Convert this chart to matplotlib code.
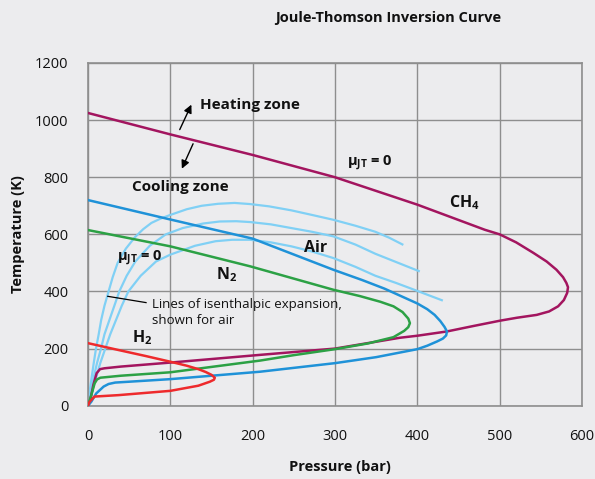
import matplotlib
matplotlib.use("Agg")
import matplotlib.pyplot as plt

# ---- data (Pressure in bar, Temperature in K) ----
ch4_p = [0, 100, 200, 300, 400, 482, 500, 520, 541, 557, 569, 577, 581, 583, 582, 578, 571, 560, 545, 521, 501, 468, 436, 400, 379, 300, 209, 100, 40, 20, 14.6, 10.5, 6.5, 2.4, 0]
ch4_t = [1025, 950, 878, 800, 704, 616, 600, 572, 535, 505, 476, 450, 430, 415, 395, 370, 348, 330, 318, 308, 298, 279, 260, 245, 238, 200, 178, 151, 137, 131, 128, 114, 73, 14, 0]

air_p = [0, 100, 200, 298, 333, 360, 380, 400, 412, 421, 428, 433, 436, 435, 431, 424, 412, 400, 350, 300, 209, 100, 50, 33, 25, 19, 10, 4, 0]
air_t = [720, 652, 585, 476, 440, 410, 384, 358, 338, 318, 296, 276, 260, 246, 235, 225, 210, 198, 170, 149, 119, 93, 84, 81, 76, 67, 43, 14, 0]

n2_p = [0, 100, 197, 298, 330, 355, 371, 382, 389, 391, 389, 384, 371, 340, 300, 250, 209, 100, 40, 15, 11, 8, 4, 0]
n2_t = [615, 558, 488, 406, 384, 364, 348, 328, 305, 289, 275, 262, 240, 218, 198, 177, 158, 117, 105, 98, 92, 78, 37, 0]

h2_p = [0, 37, 70, 100, 120, 134, 143, 150, 154, 153, 148, 140, 134, 100, 37, 8, 2, 0]
h2_t = [219, 195, 174, 154, 140, 128, 118, 108, 98, 91, 84, 76, 70, 52, 37, 32, 14, 0]

iso1_p = [0, 2, 4.5, 7, 9.7, 13, 16, 20, 25, 30, 36, 46, 57, 67, 77, 88, 100, 120, 138, 158, 178, 197, 220, 247, 272, 298, 325, 349, 366, 383]
iso1_t = [0, 50, 100, 150, 200, 250, 300, 350, 400, 450, 500, 550, 590, 618, 640, 655, 668, 688, 700, 707, 710, 706, 698, 684, 668, 651, 630, 609, 588, 563]

iso2_p = [0, 3.5, 7, 11, 15.8, 20, 26, 32, 38, 47, 57.5, 75, 94.5, 115, 140, 160, 180, 197, 222, 247, 272, 298, 325, 349, 376, 403]
iso2_t = [0, 50, 100, 150, 200, 250, 300, 350, 400, 455, 505, 560, 600, 622, 638, 645, 646, 643, 635, 622, 609, 593, 564, 532, 501, 470]

iso3_p = [0, 5, 10, 15, 21, 27, 34, 41, 49, 64, 82.6, 100, 130, 155, 175, 197, 222, 247, 272, 298, 325, 349, 374, 399, 431]
iso3_t = [0, 50, 100, 150, 200, 250, 300, 350, 400, 455, 505, 529, 560, 576, 581, 581, 572, 558, 540, 517, 486, 455, 430, 403, 368]

x_ticks = [0, 100, 200, 300, 400, 500, 600]
y_ticks = [0, 200, 400, 600, 800, 1000, 1200]

# ---- style ----
FONT = "Open Sans"
plt.rcParams['font.family'] = [FONT, 'DejaVu Sans']
plt.rcParams['mathtext.fontset'] = 'custom'
plt.rcParams['mathtext.rm'] = FONT
plt.rcParams['mathtext.it'] = FONT + ':italic'
plt.rcParams['mathtext.bf'] = FONT + ':bold'

BG = '#ececee'
GRID = '#8e8e8e'
C_CH4 = '#a3155f'
C_AIR = '#1f92d8'
C_N2 = '#2ca145'
C_H2 = '#ee2a2c'
C_ISO = '#80d0f5'
INK = '#111111'

fig = plt.figure(figsize=(5.95, 4.79), dpi=100, facecolor=BG)
ax = fig.add_axes([88/595, 1-405.7/479, (582-88)/595, (405.7-63)/479])
ax.set_facecolor(BG)

ax.set_xlim(0, 600)
ax.set_ylim(0, 1200)
ax.set_xticks(x_ticks)
ax.set_yticks(y_ticks)
ax.tick_params(length=0, labelsize=10.5, colors=INK)
ax.tick_params(axis='y', pad=14)
ax.tick_params(axis='x', pad=17)
ax.grid(True, color=GRID, lw=1.0)
ax.set_axisbelow(True)
for s in ax.spines.values():
    s.set_color(GRID)
    s.set_linewidth(1.2)

for p, t in [(iso1_p, iso1_t), (iso2_p, iso2_t), (iso3_p, iso3_t)]:
    ax.plot(p, t, color=C_ISO, lw=1.6, solid_capstyle='butt', solid_joinstyle='round', zorder=2)
for p, t, c in [(ch4_p, ch4_t, C_CH4), (n2_p, n2_t, C_N2), (air_p, air_t, C_AIR)]:
    ax.plot(p, t, color=c, lw=1.8, solid_joinstyle='round', zorder=3)
ax.plot(h2_p, h2_t, color=C_H2, lw=1.8, solid_joinstyle='round', zorder=4)

# annotations
bold = dict(fontsize=11, fontweight='bold', color=INK)
ax.text(136, 1053, 'Heating zone', va='center', ha='left', **bold)
ax.text(53, 765, 'Cooling zone', va='center', ha='left', **bold)
ax.annotate('', xy=(127, 1063), xytext=(110, 958),
            arrowprops=dict(arrowstyle='-|>', color='black', lw=1.0, mutation_scale=12))
ax.annotate('', xy=(112.6, 821), xytext=(129, 926),
            arrowprops=dict(arrowstyle='-|>', color='black', lw=1.0, mutation_scale=12))

mu = r'$\mathbf{\mu}_{\mathbf{JT}}$ = 0'
ax.text(314, 850, mu, va='center', ha='left', fontsize=10.5, fontweight='bold', color=INK)
ax.text(35, 517, mu, va='center', ha='left', fontsize=10.5, fontweight='bold', color=INK)
ax.text(438, 710, r'$\mathbf{CH_4}$', va='center', ha='left', fontsize=11.5, color=INK)
ax.text(262, 552, 'Air', va='center', ha='left', fontsize=11.5, fontweight='bold', color=INK)
ax.text(156, 459, r'$\mathbf{N_2}$', va='center', ha='left', fontsize=11.5, color=INK)
ax.text(54, 238, r'$\mathbf{H_2}$', va='center', ha='left', fontsize=11.5, color=INK)

ax.plot([24, 70.5], [383, 361], color='black', lw=0.9, zorder=5)
ax.text(77.4, 356, 'Lines of isenthalpic expansion,', va='center', ha='left', fontsize=9.5, color=INK)
ax.text(77.4, 298, 'shown for air', va='center', ha='left', fontsize=9.5, color=INK)

fig.text(388/595, 1-18/479, 'Joule-Thomson Inversion Curve', ha='center', va='center',
         fontsize=10.5, fontweight='bold', color=INK)
fig.text(340/595, 1-467/479, 'Pressure (bar)', ha='center', va='center',
         fontsize=10.5, fontweight='bold', color=INK)
fig.text(18/595, 1-234/479, 'Temperature (K)', ha='center', va='center', rotation=90,
         fontsize=10.5, fontweight='bold', color=INK)

fig.savefig('out.png', dpi=100, facecolor=BG)
